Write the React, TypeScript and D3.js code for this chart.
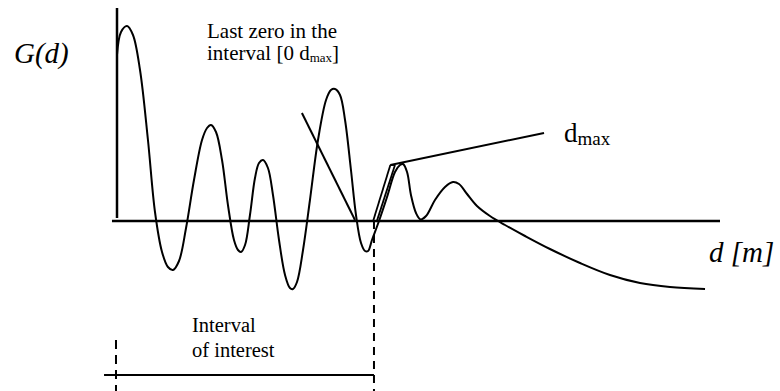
import { useMemo } from 'react';
import * as d3 from 'd3';

// distance samples (d) and the correlogram value there (G)
const dVals = [
  0, 0.4, 1.0, 1.59, 2.29, 3.08, 3.78, 4.48, 5.07, 5.57, 6.17, 6.87, 7.66, 8.46, 8.96, 9.35,
  9.85, 10.45, 11.04, 11.64, 12.04, 12.34, 12.74, 13.23, 13.73, 14.13, 14.53, 15.02, 15.52,
  16.12, 16.72, 17.21, 17.51, 17.91, 18.51, 19.2, 20.0, 20.8, 21.29, 21.69, 22.19, 22.69,
  23.28, 23.78, 24.28, 24.68, 24.98, 25.37, 26.07, 26.87, 27.66, 28.16, 28.46, 28.86, 29.25,
  29.75, 30.2, 30.75, 31.64, 32.64, 33.43, 34.03, 34.83, 35.82, 37.11, 38.61, 40.6, 43.08,
  46.07, 49.05, 52.04, 55.02, 58.51,
];
const gVals = [
  0.83, 0.945, 0.975, 0.93, 0.755, 0.405, 0.045, -0.155, -0.23, -0.245, -0.2, -0.035, 0.205,
  0.405, 0.465, 0.48, 0.445, 0.305, 0.08, -0.095, -0.145, -0.155, -0.12, 0.03, 0.215, 0.29,
  0.305, 0.265, 0.13, -0.095, -0.27, -0.335, -0.34, -0.305, -0.145, 0.105, 0.405, 0.605,
  0.655, 0.66, 0.63, 0.505, 0.255, 0.03, -0.11, -0.15, -0.15, -0.095, 0.0, 0.12, 0.245,
  0.28, 0.285, 0.245, 0.13, 0.04, 0.008, 0.025, 0.105, 0.17, 0.195, 0.185, 0.135, 0.075, 0.025,
  -0.02, -0.075, -0.14, -0.21, -0.27, -0.31, -0.33, -0.34,
];

// annotation strokes, in the same (d, G) units
const tangentLine = [[18.4, 0.54], [23.68, 0.005]];
const pointerLines = [
  [[25.47, -0.003], [27.2, 0.28]],
  [[25.84, -0.003], [27.66, 0.28]],
  [[27.2, 0.28], [27.66, 0.28]],
];
const leaderLine = [[27.2, 0.28], [42.49, 0.44]];
const lastZero = 25.57;

const width = 780;
const height = 391;
const serif = "'Liberation Serif', 'Times New Roman', Times, 'DejaVu Serif', serif";

const App = () => {
  const x = d3.scaleLinear().domain([0, 60]).range([117, 720]);
  const y = d3.scaleLinear().domain([-1, 1]).range([421, 21]);

  const path = useMemo(() => {
    const pts = dVals.map((d, i) => [d, gVals[i]]);
    return d3.line()
      .x((p) => x(p[0]))
      .y((p) => y(p[1]))
      .curve(d3.curveCatmullRom.alpha(0.5))(pts);
  }, []);

  const seg = (s, key, extra = {}) => (
    <line
      key={key}
      x1={x(s[0][0])}
      y1={y(s[0][1])}
      x2={x(s[1][0])}
      y2={y(s[1][1])}
      stroke="#000"
      strokeWidth={2}
      {...extra}
    />
  );

  return (
    <svg width={width} height={height} style={{ position: 'absolute', left: 0, top: 0, background: '#fff' }}>
      {/* axes */}
      <line x1={x(0)} y1={y(1.065)} x2={x(0)} y2={y(0.015)} stroke="#000" strokeWidth={2.5} />
      <line x1={x(-0.5)} y1={y(0)} x2={x(60)} y2={y(0)} stroke="#000" strokeWidth={2.5} />

      <path d={path} fill="none" stroke="#000" strokeWidth={2} />

      {seg(tangentLine, 'tan')}
      {pointerLines.map((s, i) => seg(s, 'p' + i, { strokeWidth: 1.8 }))}
      {seg(leaderLine, 'lead')}

      {/* interval of interest */}
      <line x1={x(lastZero)} y1={y(0)} x2={x(lastZero)} y2={height} stroke="#000" strokeWidth={2} strokeDasharray="8 6" />
      <line x1={x(-0.1)} y1={y(-0.595)} x2={x(-0.1)} y2={height} stroke="#000" strokeWidth={2} strokeDasharray="9 6" />
      <line x1={x(-1.29)} y1={y(-0.77)} x2={x(lastZero)} y2={y(-0.77)} stroke="#000" strokeWidth={2} />

      <g style={{ fontFamily: serif }} fill="#000">
        <text x={14} y={63} fontSize={29} fontStyle="italic">G(d)</text>
        <text x={709} y={262} fontSize={29} fontStyle="italic">d [m]</text>

        <text x={207} y={38} fontSize={21}>Last zero in the</text>
        <text x={207} y={60} fontSize={21}>
          interval [0 d<tspan fontSize={13} dy={2}>max</tspan><tspan dy={-2}>]</tspan>
        </text>

        <text x={564} y={142} fontSize={27}>
          d<tspan fontSize={19} dy={3}>max</tspan>
        </text>

        <text x={192} y={332} fontSize={20.5}>Interval</text>
        <text x={192} y={357} fontSize={20.5}>of interest</text>
      </g>
    </svg>
  );
};

export default App;
